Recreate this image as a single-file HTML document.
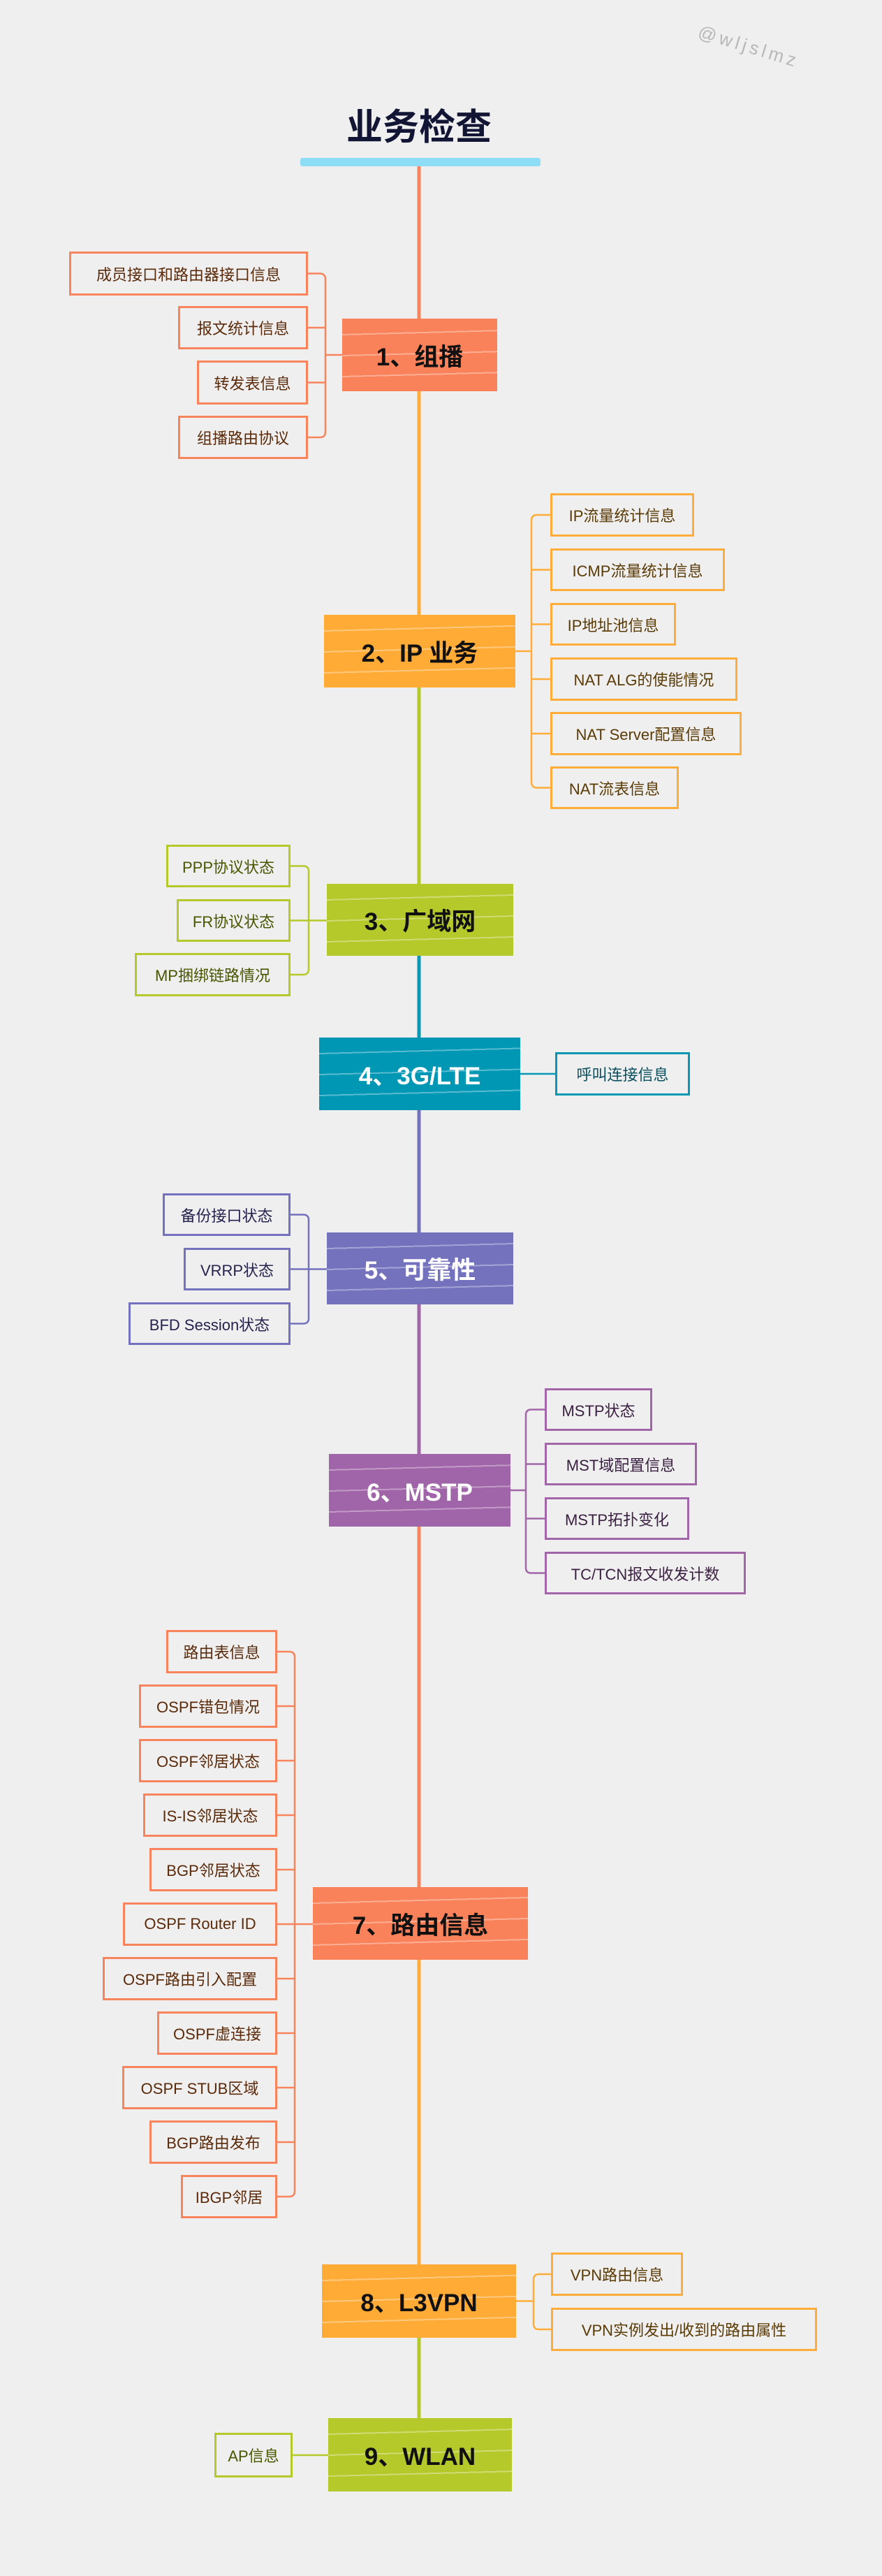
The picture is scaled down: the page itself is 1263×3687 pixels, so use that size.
<!DOCTYPE html>
<html><head><meta charset="utf-8">
<style>
body{margin:0;background:#efefef;}
#c{position:relative;width:1263px;height:3687px;background:#efefef;overflow:hidden;font-family:"Liberation Sans","Noto Sans CJK SC",sans-serif;}
.n{position:absolute;display:flex;align-items:center;justify-content:center;font-size:35px;font-weight:bold;box-sizing:border-box;
background-image:repeating-linear-gradient(178.5deg,rgba(255,255,255,0) 0 22px,rgba(255,255,255,.35) 22px 24px,rgba(255,255,255,0) 24px 30px);}
.k{position:absolute;box-sizing:border-box;border:3px solid;display:flex;align-items:center;justify-content:center;font-size:22px;white-space:nowrap;}
.o1{border-color:#f7845c;color:#5a2a0a}
.o2{border-color:#ffad3a;color:#5a3a05}
.g{border-color:#b6c92b;color:#4a5500}
.t{border-color:#0898b4;color:#0a4f5e}
.b{border-color:#7472bc;color:#25234e}
.p{border-color:#a066a8;color:#3a1f40}
</style></head><body><div id="c">
<svg width="1263" height="3687" style="position:absolute;left:0;top:0" fill="none">
<rect x="430" y="226" width="344" height="12" rx="3" fill="#8fdcf6"/>
<g stroke-width="5">
<line x1="600" y1="238" x2="600" y2="456" stroke="#f7845c"/>
<line x1="600" y1="560" x2="600" y2="880" stroke="#ffad3a"/>
<line x1="600" y1="984" x2="600" y2="1265" stroke="#b6c92b"/>
<line x1="600" y1="1368" x2="600" y2="1485" stroke="#0898b4"/>
<line x1="600" y1="1589" x2="600" y2="1764" stroke="#7472bc"/>
<line x1="600" y1="1867" x2="600" y2="2081" stroke="#a066a8"/>
<line x1="600" y1="2185" x2="600" y2="2701" stroke="#f7845c"/>
<line x1="600" y1="2805" x2="600" y2="3241" stroke="#ffad3a"/>
<line x1="600" y1="3346" x2="600" y2="3461" stroke="#b6c92b"/>
</g>
<g stroke-width="2.5">
<g stroke="#f7845c">
<path d="M441 391.5H458Q466 391.5 466 400V618Q466 626 458 626H441"/>
<path d="M441 469H466M441 547.5H466M466 508H490"/>
</g>
<g stroke="#ffad3a">
<path d="M788 737H769Q761 737 761 745V1119Q761 1127.5 769 1127.5H788"/>
<path d="M788 815.5H761M788 893.5H761M788 972H761M788 1050H761M761 932H738"/>
</g>
<g stroke="#b6c92b">
<path d="M416 1239.5H434Q442 1239.5 442 1247V1387Q442 1395 434 1395H416"/>
<path d="M416 1317.5H468"/>
<path d="M419 3514H470"/>
</g>
<path d="M745 1537H795" stroke="#0898b4"/>
<g stroke="#7472bc">
<path d="M416 1738.5H434Q442 1738.5 442 1746V1887Q442 1894.5 434 1894.5H416"/>
<path d="M416 1816.5H468"/>
</g>
<g stroke="#a066a8">
<path d="M780 2017.5H761Q753 2017.5 753 2025V2244Q753 2251.5 761 2251.5H780"/>
<path d="M780 2095.5H753M780 2173.5H753M753 2133H731"/>
</g>
<g stroke="#f7845c">
<path d="M397 2364H414Q422 2364 422 2372V3136Q422 3144 414 3144H397"/>
<path d="M397 2442H422M397 2520H422M397 2598H422M397 2676H422M397 2754H448M397 2832H422M397 2910H422M397 2988H422M397 3066H422"/>
</g>
<g stroke="#ffad3a">
<path d="M789 3255H772Q764 3255 764 3263V3326Q764 3334 772 3334H789"/>
<path d="M764 3293.5H739"/>
</g>
</g>
</svg>
<div style="position:absolute;left:1005px;top:30px;font-size:26px;color:#b8b8b8;letter-spacing:5px;transform:rotate(17deg);transform-origin:left top;font-family:'Liberation Sans',sans-serif">@wljslmz</div>
<div style="position:absolute;left:400px;top:140px;width:400px;text-align:center;font-size:52px;font-weight:bold;color:#121533;font-family:'Liberation Sans','Noto Sans CJK SC',sans-serif">业务检查</div>

<div class="n" style="left:490px;top:456px;width:222px;height:104px;background-color:#f9825a;color:#111">1、组播</div>
<div class="k o1" style="left:99px;top:360px;width:342px;height:63px">成员接口和路由器接口信息</div>
<div class="k o1" style="left:255px;top:438px;width:186px;height:62px">报文统计信息</div>
<div class="k o1" style="left:282px;top:516px;width:159px;height:63px">转发表信息</div>
<div class="k o1" style="left:255px;top:595px;width:186px;height:62px">组播路由协议</div>

<div class="n" style="left:464px;top:880px;width:274px;height:104px;background-color:#ffab36;color:#111">2、IP 业务</div>
<div class="k o2" style="left:788px;top:706px;width:206px;height:62px">IP流量统计信息</div>
<div class="k o2" style="left:788px;top:785px;width:250px;height:61px">ICMP流量统计信息</div>
<div class="k o2" style="left:788px;top:863px;width:180px;height:61px">IP地址池信息</div>
<div class="k o2" style="left:788px;top:941px;width:268px;height:62px">NAT ALG的使能情况</div>
<div class="k o2" style="left:788px;top:1019px;width:274px;height:62px">NAT Server配置信息</div>
<div class="k o2" style="left:788px;top:1097px;width:184px;height:61px">NAT流表信息</div>

<div class="n" style="left:468px;top:1265px;width:267px;height:103px;background-color:#b5c92a;color:#111">3、广域网</div>
<div class="k g" style="left:238px;top:1209px;width:178px;height:61px">PPP协议状态</div>
<div class="k g" style="left:253px;top:1287px;width:163px;height:61px">FR协议状态</div>
<div class="k g" style="left:193px;top:1364px;width:223px;height:62px">MP捆绑链路情况</div>

<div class="n" style="left:457px;top:1485px;width:288px;height:104px;background-color:#0097b5;color:#fff">4、3G/LTE</div>
<div class="k t" style="left:795px;top:1506px;width:193px;height:62px">呼叫连接信息</div>

<div class="n" style="left:468px;top:1764px;width:267px;height:103px;background-color:#7472bc;color:#fff">5、可靠性</div>
<div class="k b" style="left:233px;top:1708px;width:183px;height:61px">备份接口状态</div>
<div class="k b" style="left:263px;top:1786px;width:153px;height:61px">VRRP状态</div>
<div class="k b" style="left:184px;top:1864px;width:232px;height:61px">BFD Session状态</div>

<div class="n" style="left:471px;top:2081px;width:260px;height:104px;background-color:#a065a8;color:#fff">6、MSTP</div>
<div class="k p" style="left:780px;top:1987px;width:154px;height:61px">MSTP状态</div>
<div class="k p" style="left:780px;top:2065px;width:218px;height:61px">MST域配置信息</div>
<div class="k p" style="left:780px;top:2143px;width:207px;height:61px">MSTP拓扑变化</div>
<div class="k p" style="left:780px;top:2221px;width:288px;height:61px">TC/TCN报文收发计数</div>

<div class="n" style="left:448px;top:2701px;width:308px;height:104px;background-color:#f9825a;color:#111">7、路由信息</div>
<div class="k o1" style="left:238px;top:2333px;width:159px;height:62px">路由表信息</div>
<div class="k o1" style="left:199px;top:2411px;width:198px;height:62px">OSPF错包情况</div>
<div class="k o1" style="left:199px;top:2489px;width:198px;height:62px">OSPF邻居状态</div>
<div class="k o1" style="left:205px;top:2567px;width:192px;height:62px">IS-IS邻居状态</div>
<div class="k o1" style="left:214px;top:2645px;width:183px;height:62px">BGP邻居状态</div>
<div class="k o1" style="left:176px;top:2723px;width:221px;height:62px">OSPF Router ID</div>
<div class="k o1" style="left:147px;top:2801px;width:250px;height:62px">OSPF路由引入配置</div>
<div class="k o1" style="left:225px;top:2879px;width:172px;height:62px">OSPF虚连接</div>
<div class="k o1" style="left:175px;top:2957px;width:222px;height:62px">OSPF STUB区域</div>
<div class="k o1" style="left:214px;top:3035px;width:183px;height:62px">BGP路由发布</div>
<div class="k o1" style="left:259px;top:3113px;width:138px;height:62px">IBGP邻居</div>

<div class="n" style="left:461px;top:3241px;width:278px;height:105px;background-color:#ffab36;color:#111">8、L3VPN</div>
<div class="k o2" style="left:789px;top:3224px;width:189px;height:62px">VPN路由信息</div>
<div class="k o2" style="left:789px;top:3303px;width:381px;height:62px">VPN实例发出/收到的路由属性</div>

<div class="n" style="left:470px;top:3461px;width:263px;height:105px;background-color:#b5c92a;color:#111">9、WLAN</div>
<div class="k g" style="left:307px;top:3482px;width:112px;height:64px">AP信息</div>
</div></body></html>
